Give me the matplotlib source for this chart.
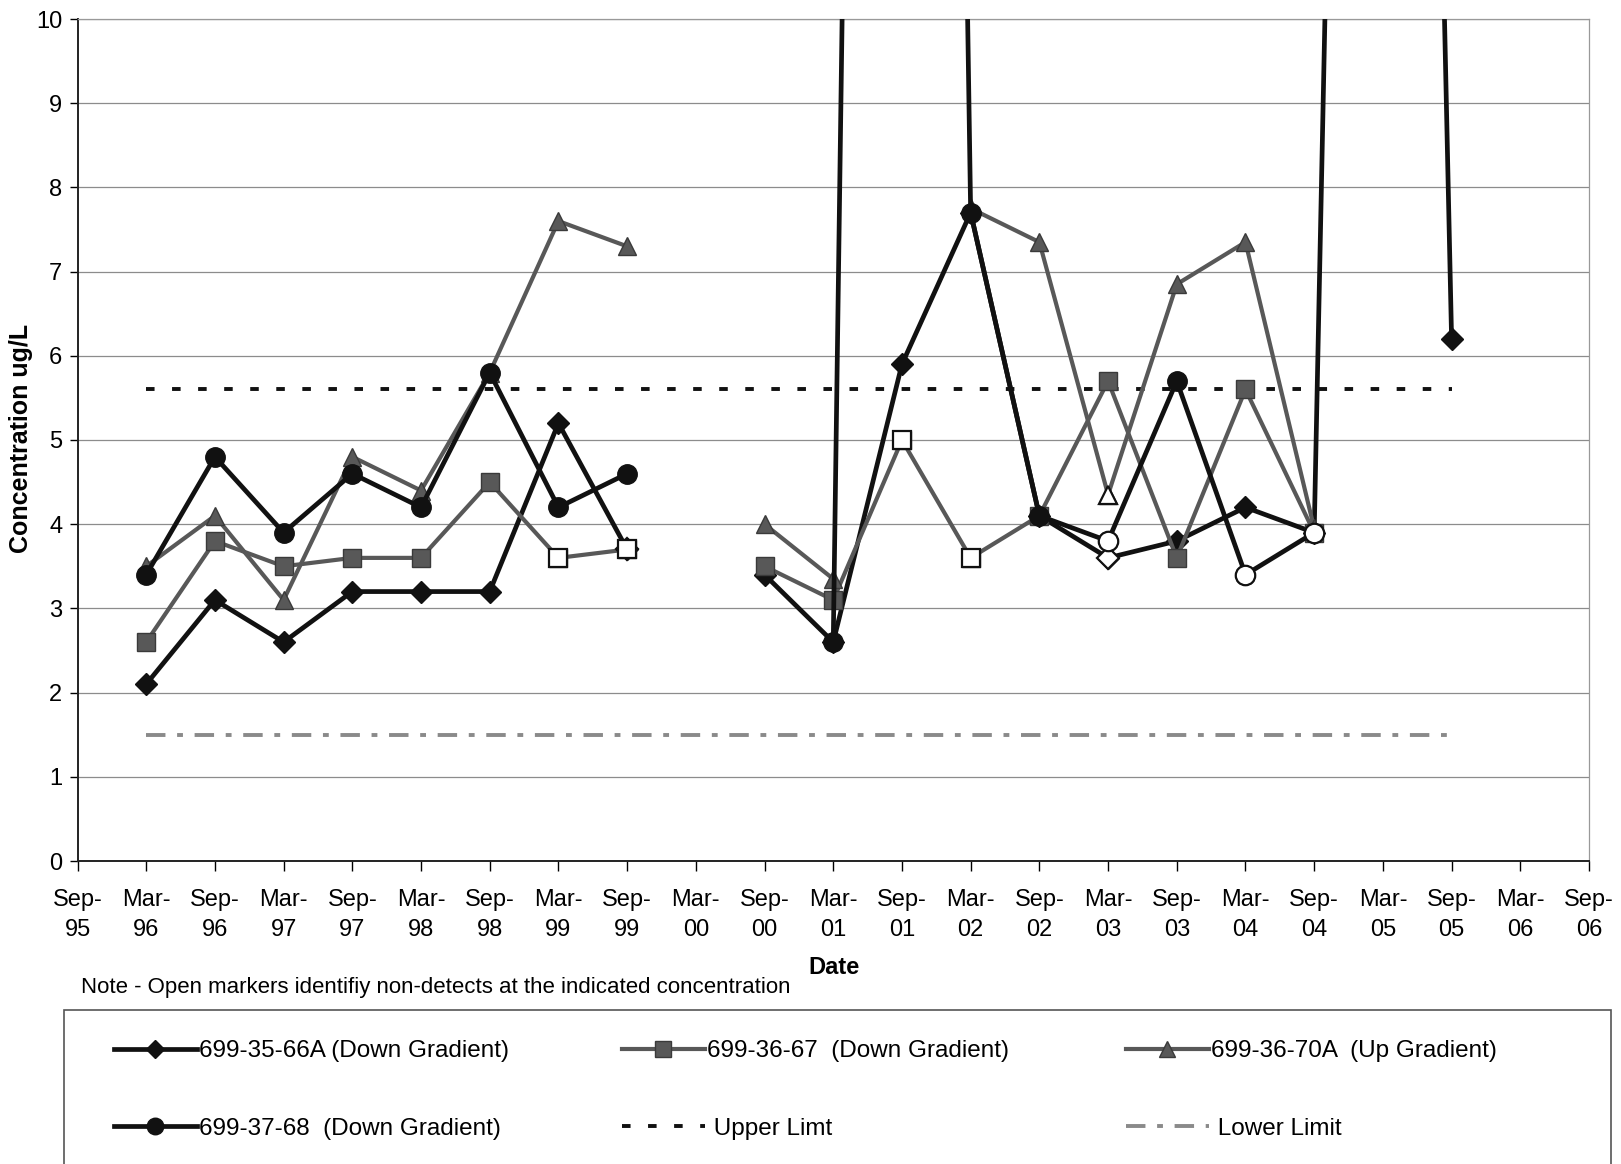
import numpy as np
import matplotlib as mpl
mpl.use('Agg')
import matplotlib.pyplot as plt
from matplotlib.lines import Line2D
from matplotlib.patches import Rectangle

mpl.rc('font', family=['Liberation Sans', 'DejaVu Sans'], size=17)

nan = np.nan
# half-year sampling dates, Sep-95 .. Sep-06
dates = ['Sep-\n95', 'Mar-\n96', 'Sep-\n96', 'Mar-\n97', 'Sep-\n97', 'Mar-\n98',
         'Sep-\n98', 'Mar-\n99', 'Sep-\n99', 'Mar-\n00', 'Sep-\n00', 'Mar-\n01',
         'Sep-\n01', 'Mar-\n02', 'Sep-\n02', 'Mar-\n03', 'Sep-\n03', 'Mar-\n04',
         'Sep-\n04', 'Mar-\n05', 'Sep-\n05', 'Mar-\n06', 'Sep-\n06']

w35_66a = [nan, 2.1, 3.1, 2.6, 3.2, 3.2, 3.2, 5.2, 3.7, nan, 3.4, 2.6, 5.9, 7.7,
           4.1, 3.6, 3.8, 4.2, 3.9, 43.0, 6.2, nan, nan]
w36_67 = [nan, 2.6, 3.8, 3.5, 3.6, 3.6, 4.5, 3.6, 3.7, nan, 3.5, 3.1, 5.0, 3.6,
          4.1, 5.7, 3.6, 5.6, 3.9, nan, nan, nan, nan]
w36_70a = [nan, 3.5, 4.1, 3.1, 4.8, 4.4, 5.8, 7.6, 7.3, nan, 4.0, 3.35, nan, 7.75,
           7.35, 4.35, 6.85, 7.35, 3.95, nan, nan, nan, nan]
w37_68 = [nan, 3.4, 4.8, 3.9, 4.6, 4.2, 5.8, 4.2, 4.6, nan, nan, 2.6, 60.0, 7.7,
          4.1, 3.8, 5.7, 3.4, 3.9, nan, nan, nan, nan]

# non-detects (open markers), by date index
nd_35_66a = [8, 15]
nd_36_67 = [7, 8, 12, 13]
nd_36_70a = [15]
nd_37_68 = [15, 17, 18]

upper_limit = 5.6
lower_limit = 1.5
limit_span = (1, 20)   # Mar-96 .. Sep-05

x = np.arange(len(dates))
blk = '#111111'
gry = '#585858'
upper_ls = (0, (2.2, 4.5))
lower_ls = (0, (5, 3, 1.5, 3))

fig = plt.figure(figsize=(16.21, 11.64), dpi=100)
ax = fig.add_axes([77.5/1621, 1-861/1164, (1589-77.5)/1621, (861-19)/1164])

lx = np.arange(limit_span[0], limit_span[1]+1)
ax.plot(lx, np.full(len(lx), upper_limit), color=blk, lw=2.8, ls=upper_ls, zorder=2)
ax.plot(lx, np.full(len(lx), lower_limit), color='#8a8a8a', lw=2.8, ls=lower_ls, zorder=2)

series = [
    (w35_66a, nd_35_66a, 'D', 11, blk, 3.4, '699-35-66A (Down Gradient)'),
    (w36_67, nd_36_67, 's', 13, gry, 3.0, '699-36-67  (Down Gradient)'),
    (w36_70a, nd_36_70a, '^', 13, gry, 3.0, '699-36-70A  (Up Gradient)'),
    (w37_68, nd_37_68, 'o', 14, blk, 3.4, '699-37-68  (Down Gradient)'),
]
handles = []
for k, (vals, nd, mk, ms, col, lw, lab) in enumerate(series):
    v = np.array(vals)
    edge = blk if col == blk else '#3a3a3a'
    ax.plot(x, v, color=col, lw=lw, marker=mk, ms=ms, mfc=col, mec=edge, mew=1, zorder=4 + k)
    ax.plot(x[nd], v[nd], ls='none', marker=mk, ms=ms, mfc='white', mec=blk, mew=1.6, zorder=9)
    handles.append(Line2D([], [], color=col, lw=lw, marker=mk, ms=ms * 0.85, mfc=col,
                          mec=edge, label=lab))
handles.append(Line2D([], [], color=blk, lw=2.8, ls=upper_ls, label=' Upper Limt'))
handles.append(Line2D([], [], color='#8a8a8a', lw=2.8, ls=lower_ls, label=' Lower Limit'))

ax.set_xlim(0, 22)
ax.set_ylim(0, 10)
ax.set_yticks(range(0, 11))
ax.set_xticks(x)
ax.set_xticklabels(dates, linespacing=1.5)
ax.yaxis.grid(True, color='#8c8c8c', lw=0.9)
ax.set_axisbelow(True)
ax.tick_params(axis='x', direction='out', length=7, width=1, pad=13, labelsize=17)
ax.tick_params(axis='y', direction='out', length=6, width=1, pad=5, labelsize=17)
for s in ['left', 'bottom']:
    ax.spines[s].set_color('#222222')
    ax.spines[s].set_linewidth(1.4)
for s in ['top', 'right']:
    ax.spines[s].set_color('#999999')
    ax.spines[s].set_linewidth(0.9)

fig.text(21/1621, 1-438/1164, 'Concentration ug/L', rotation=90, fontsize=18,
         fontweight='bold', ha='center', va='center')
fig.text(834/1621, 1-967/1164, 'Date', fontsize=17, fontweight='bold', ha='center', va='center')
fig.text(81/1621, 1-988/1164, 'Note - Open markers identifiy non-detects at the indicated concentration',
         fontsize=16, ha='left', va='center')

fig.patches.append(Rectangle((64/1621, -0.05), (1611-64)/1621, 0.05 + 1-1010/1164,
                             transform=fig.transFigure, fill=False, ec='#555555', lw=1.2))

cols_x = [114, 622, 1126]
for c in range(3):
    leg = fig.legend(handles=[handles[c], handles[c+3]], loc='upper left',
                     bbox_to_anchor=(cols_x[c]/1621, 1-1040/1164), frameon=False,
                     fontsize=17.5, handlelength=3.4, handletextpad=0.1, labelspacing=2.3,
                     borderpad=0, borderaxespad=0)

plt.savefig('out.png', dpi=100)
plt.close()
